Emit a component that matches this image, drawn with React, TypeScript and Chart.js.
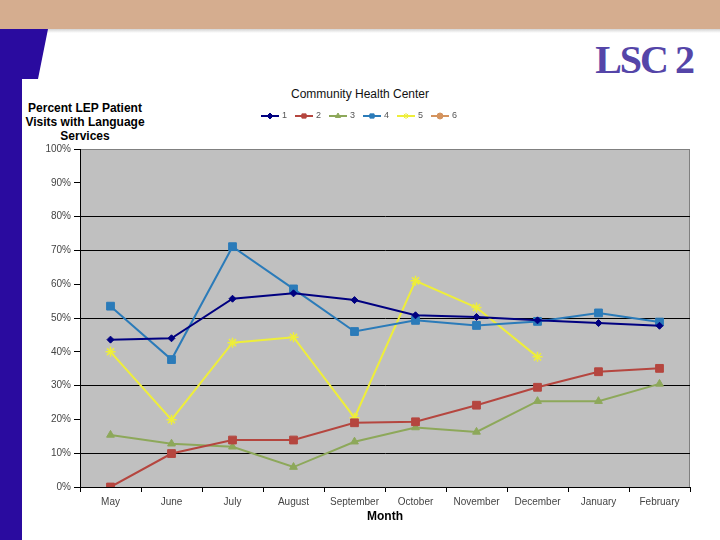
import { useEffect, useRef } from "react";
import { Chart, registerables } from "chart.js";
import { drawPoint } from "chart.js/helpers";

Chart.register(...registerables);

const months = [
  "May", "June", "July", "August", "September",
  "October", "November", "December", "January", "February",
];

const seriesNames = ["1", "2", "3", "4", "5", "6"];

// percent of LEP patient visits
const center1 = [43.6, 44.0, 55.7, 57.3, 55.3, 50.8, 50.3, 49.3, 48.5, 47.7];
const center2 = [0.0, 9.9, 13.9, 13.9, 19.0, 19.3, 24.2, 29.5, 34.1, 35.1];
const center3 = [15.4, 12.8, 11.9, 5.9, 13.4, 17.6, 16.3, 25.4, 25.4, 30.5];
const center4 = [53.5, 37.7, 71.1, 58.6, 46.0, 49.3, 47.8, 49.0, 51.5, 48.8];
const center5 = [40.0, 19.9, 42.7, 44.3, 20.5, 61.0, 53.1, 38.5, null, null];
const center6: (number | null)[] = [null, null, null, null, null, null, null, null, null, null];

// gridlines that show up in the picture
const shownGrid = [10, 30, 50, 70, 80];

const colors = ["#000080", "#B5463F", "#8DA85A", "#2B7BB9", "#EEEE3A", "#D4935E"];
const markers = ["rectRot", "rect", "triangle", "rect", "star", "circle"];
const markerSizes = [3.5, 5.5, 4.5, 5.5, 5, 4];

const FONT = "'Liberation Sans', Arial, sans-serif";

const frame = {
  id: "frame",
  beforeDraw(chart: any) {
    const { ctx, chartArea: a } = chart;
    ctx.save();
    ctx.fillStyle = "#C0C0C0";
    ctx.fillRect(a.left, a.top, a.right - a.left, a.bottom - a.top);
    ctx.strokeStyle = "#808080";
    ctx.lineWidth = 1;
    ctx.strokeRect(a.left + 0.5, a.top + 0.5, a.right - a.left - 1, a.bottom - a.top);
    ctx.restore();
  },
  afterDraw(chart: any) {
    const { ctx } = chart;
    const sets = chart.data.datasets;
    const step = 34;
    const total = sets.length * step - 6;
    const start = chart.width / 2 - total / 2;
    const y = 116;
    ctx.save();
    sets.forEach((ds: any, i: number) => {
      const x0 = start + i * step;
      ctx.strokeStyle = ds.borderColor;
      ctx.lineWidth = 2;
      ctx.beginPath();
      ctx.moveTo(x0, y);
      ctx.lineTo(x0 + 18, y);
      ctx.stroke();
      ctx.fillStyle = ds.pointBackgroundColor;
      ctx.strokeStyle = ds.pointBorderColor;
      ctx.lineWidth = 1;
      drawPoint(ctx, { pointStyle: ds.pointStyle, rotation: 0, radius: 3, borderWidth: 1 }, x0 + 9, y);
      ctx.fillStyle = "#555";
      ctx.font = `9px ${FONT}`;
      ctx.textBaseline = "middle";
      ctx.textAlign = "left";
      ctx.fillText(ds.label, x0 + 21, y);
    });
    ctx.restore();
  },
};

const series = [center1, center2, center3, center4, center5, center6];

const App = () => {
  const canvasRef = useRef<HTMLCanvasElement>(null);

  useEffect(() => {
    if (!canvasRef.current) return;
    const chart = new Chart(canvasRef.current, {
      type: "line",
      data: {
        labels: months,
        datasets: series.map((values, i) => ({
          label: seriesNames[i],
          data: values,
          borderColor: colors[i],
          backgroundColor: colors[i],
          pointBackgroundColor: colors[i],
          pointBorderColor: colors[i],
          pointStyle: markers[i] as any,
          pointRadius: markerSizes[i],
          pointBorderWidth: i === 4 ? 1.5 : 1,
          borderWidth: 2,
          fill: false,
          tension: 0,
          spanGaps: false,
        })),
      },
      options: {
        animation: false,
        responsive: true,
        maintainAspectRatio: false,
        layout: { padding: { left: 30, right: 30, top: 149, bottom: 16 } },
        plugins: {
          legend: { display: false },
          title: { display: false },
          tooltip: { enabled: false },
        },
        scales: {
          x: {
            type: "category",
            offset: true,
            grid: {
              drawOnChartArea: false,
              offset: true,
              tickLength: 5,
              tickColor: "#000",
            },
            border: { color: "#000", width: 1 },
            ticks: {
              font: { family: FONT, size: 10 },
              color: "#444",
              padding: 4,
              maxRotation: 0,
              autoSkip: false,
            },
            title: {
              display: true,
              text: "Month",
              font: { family: FONT, size: 12, weight: "bold" },
              color: "#000",
              padding: { top: 2, bottom: 0 },
            },
            afterFit: (s: any) => {
              s.height = 37;
            },
          },
          y: {
            min: 0,
            max: 100,
            ticks: {
              stepSize: 10,
              callback: (v: any) => `${v}%`,
              font: { family: FONT, size: 10 },
              color: "#444",
              padding: 3,
            },
            grid: {
              color: (c: any) => (shownGrid.includes(c.tick?.value) ? "#000" : "rgba(0,0,0,0)"),
              tickColor: "#000",
              tickLength: 6,
              lineWidth: 1,
            },
            border: { color: "#000", width: 1 },
            afterFit: (s: any) => {
              s.width = 50;
            },
          },
        },
      },
      plugins: [frame],
    });
    return () => chart.destroy();
  }, []);

  return (
    <div
      style={{
        position: "absolute",
        left: 0,
        top: 0,
        width: 720,
        height: 540,
        overflow: "hidden",
        background: "#fff",
        fontFamily: FONT,
      }}
    >
      <div style={{ position: "absolute", left: 0, top: 0, width: 720, height: 29, background: "#D5AD8F" }} />
      <div
        style={{
          position: "absolute",
          left: 0,
          top: 29,
          width: 720,
          height: 4,
          background: "linear-gradient(#d4d4d4, rgba(255,255,255,0))",
        }}
      />
      <div
        style={{
          position: "absolute",
          left: 0,
          top: 29,
          width: 50,
          height: 511,
          background: "#2A0B9F",
          clipPath: "polygon(0 0, 48px 0, 38px 50px, 22px 50px, 22px 100%, 0 100%)",
        }}
      />
      <div
        style={{
          position: "absolute",
          right: 27,
          top: 40,
          fontFamily: "'Liberation Serif', 'Times New Roman', serif",
          fontWeight: "bold",
          fontSize: 40,
          lineHeight: "40px",
          letterSpacing: -2,
          color: "#5545A8",
        }}
      >
        LSC 2
      </div>
      <div
        style={{
          position: "absolute",
          left: 0,
          top: 86,
          width: 720,
          textAlign: "center",
          fontSize: 12,
          lineHeight: "16px",
          color: "#111",
        }}
      >
        Community Health Center
      </div>
      <div
        style={{
          position: "absolute",
          left: 22,
          top: 101,
          width: 126,
          textAlign: "center",
          fontSize: 12,
          fontWeight: "bold",
          lineHeight: "14px",
          color: "#000",
        }}
      >
        Percent LEP Patient
        <br />
        Visits with Language
        <br />
        Services
      </div>
      <div style={{ position: "absolute", left: 0, top: 0, width: 720, height: 540 }}>
        <canvas ref={canvasRef}></canvas>
      </div>
    </div>
  );
};

export default App;
